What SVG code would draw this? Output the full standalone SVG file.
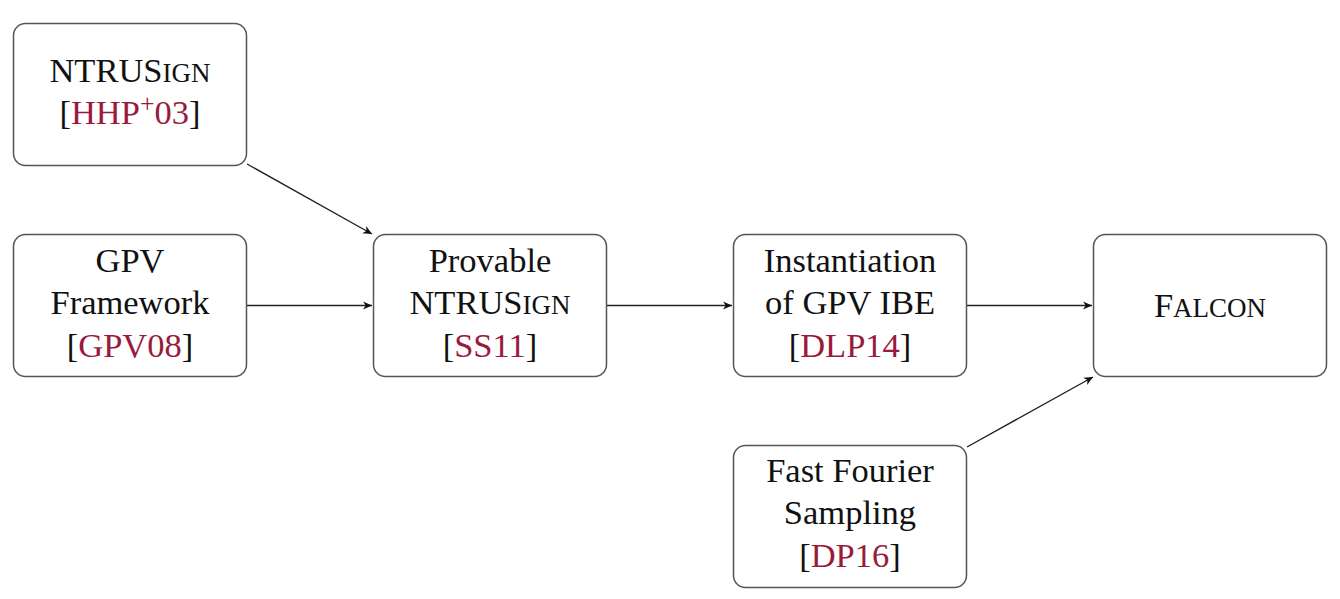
<svg xmlns="http://www.w3.org/2000/svg" width="1340" height="599" viewBox="0 0 1340 599">
<style>
.box{fill:#fff;stroke:#555;stroke-width:1.5}
text{font-family:"Liberation Serif","DejaVu Serif",serif;font-size:34.5px;fill:#111;text-anchor:middle}
.cite{fill:#9a1a3c}
.sc{font-size:27px}
.edge{stroke:#222;stroke-width:1.4;fill:none;marker-end:url(#ah)}
</style>
<defs>
<marker id="ah" viewBox="0 0 10 10" refX="10" refY="5" markerWidth="9" markerHeight="9" markerUnits="userSpaceOnUse" orient="auto">
<path d="M0,0.5 L10,5 L0,9.5 L3,5 Z" fill="#111"/>
</marker>
</defs>
<rect width="1340" height="599" fill="#fff"/>
<g id="connectors">
<line class="edge" x1="247" y1="164" x2="372" y2="234"/>
<line class="edge" x1="246" y1="305.5" x2="372" y2="305.5"/>
<line class="edge" x1="606" y1="305.5" x2="732" y2="305.5"/>
<line class="edge" x1="966" y1="305.5" x2="1092" y2="305.5"/>
<line class="edge" x1="967" y1="447" x2="1093" y2="377"/>
</g>
<g id="ntrusign">
<rect class="box" x="13.5" y="23.5" width="233" height="142" rx="12"/>
<text x="130" y="82">NTRUS<tspan class="sc">IGN</tspan></text>
<text x="130" y="124">[<tspan class="cite">HHP<tspan font-size="26" dy="-12">+</tspan><tspan dy="12">03</tspan></tspan>]</text>
</g>
<g id="gpv">
<rect class="box" x="13.5" y="234.5" width="233" height="142" rx="12"/>
<text x="130" y="272">GPV</text>
<text x="130" y="314">Framework</text>
<text x="130" y="357">[<tspan class="cite">GPV08</tspan>]</text>
</g>
<g id="provable">
<rect class="box" x="373.5" y="234.5" width="233" height="142" rx="12"/>
<text x="490" y="272">Provable</text>
<text x="490" y="314">NTRUS<tspan class="sc">IGN</tspan></text>
<text x="490" y="357">[<tspan class="cite">SS11</tspan>]</text>
</g>
<g id="instantiation">
<rect class="box" x="733.5" y="234.5" width="233" height="142" rx="12"/>
<text x="850" y="272">Instantiation</text>
<text x="850" y="314">of GPV IBE</text>
<text x="850" y="357">[<tspan class="cite">DLP14</tspan>]</text>
</g>
<g id="falcon">
<rect class="box" x="1093.5" y="234.5" width="233" height="142" rx="12"/>
<text x="1210" y="317">F<tspan class="sc">ALCON</tspan></text>
</g>
<g id="ffs">
<rect class="box" x="733.5" y="445.5" width="233" height="142" rx="12"/>
<text x="850" y="482">Fast Fourier</text>
<text x="850" y="524">Sampling</text>
<text x="850" y="567">[<tspan class="cite">DP16</tspan>]</text>
</g>
</svg>
